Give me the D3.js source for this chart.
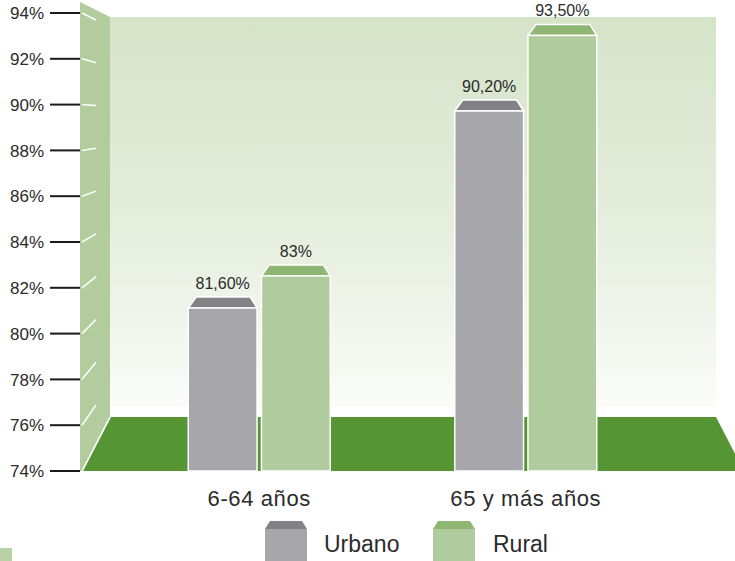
<!DOCTYPE html>
<html>
<head>
<meta charset="utf-8">
<script src="https://cdn.jsdelivr.net/npm/d3@7"></script>
<style>
  body { margin: 0; background: #fff; }
  text { font-family: 'Liberation Sans', Arial, sans-serif; fill: #2b2b2b; }
</style>
</head>
<body>
<svg id="chart" width="735" height="561"></svg>
<script>
var categories = ['6-64 años', '65 y más años']
var series = ['Urbano', 'Rural']
var urbano = [81.6, 90.2]
var rural = [83, 93.5]
var valueLabels = [['81,60%', '83%'], ['90,20%', '93,50%']]
var yTicks = [74, 76, 78, 80, 82, 84, 86, 88, 90, 92, 94]

var colors = {
  Urbano: { face: '#a7a7ab', cap: '#818186' },
  Rural: { face: '#b0cb9d', cap: '#8fb673' }
}

var svg = d3.select('#chart')
var defs = svg.append('defs')

var y = d3.scaleLinear().domain([74, 94]).range([471, 13])
var x = d3.scaleBand().domain(categories).range([126, 659]).padding(0)
var groupW = 142
var xs = d3.scaleBand().domain(series).range([0, groupW]).paddingInner(0.06)
var groupOff = (x.bandwidth() - groupW) / 2

var wallX0 = 80, wallX1 = 110, backTop = 17, floorTop = 417, floorBot = y(74)

// back wall gradient
var grad = defs.append('linearGradient')
  .attr('id', 'wallGrad').attr('x1', 0).attr('y1', 0).attr('x2', 0).attr('y2', 1)
grad.append('stop').attr('offset', '0%').attr('stop-color', '#d5e3c8')
grad.append('stop').attr('offset', '60%').attr('stop-color', '#e8f0e1')
grad.append('stop').attr('offset', '100%').attr('stop-color', '#fbfcf9')

svg.append('rect')
  .attr('x', wallX1).attr('y', backTop)
  .attr('width', 716 - wallX1).attr('height', floorTop - backTop - 10)
  .attr('fill', 'url(#wallGrad)')

// left side wall
svg.append('polygon')
  .attr('points', [[wallX0, 2], [wallX1, backTop], [wallX1, floorTop], [wallX0 + 2, floorBot], [wallX0, floorBot]].join(' '))
  .attr('fill', '#b2cc9e')

// floor
svg.append('polygon')
  .attr('points', [[wallX0 + 3, floorBot], [wallX1 + 1, floorTop], [716, floorTop], [744, floorBot]].join(' '))
  .attr('fill', '#559533')
svg.append('line')
  .attr('x1', wallX0 + 2).attr('y1', floorBot).attr('x2', wallX1).attr('y2', floorTop)
  .attr('stroke', '#fff').attr('stroke-width', 1.5)

// perspective tick marks on side wall
var vx = 82 + 212, vy = 119
svg.append('g').selectAll('line').data(yTicks.slice(1)).join('line')
  .attr('x1', 82).attr('y1', function(d) { return y(d) })
  .attr('x2', 96)
  .attr('y2', function(d) { return y(d) + (vy - y(d)) * 14 / (vx - 82) })
  .attr('stroke', '#fff').attr('stroke-width', 1.5)

// y axis ticks
var axis = svg.append('g')
axis.selectAll('line').data(yTicks).join('line')
  .attr('x1', 50).attr('x2', wallX0)
  .attr('y1', function(d) { return y(d) }).attr('y2', function(d) { return y(d) })
  .attr('stroke', '#1a1a1a').attr('stroke-width', 2)
axis.selectAll('text').data(yTicks).join('text')
  .attr('x', 44).attr('y', function(d) { return y(d) })
  .attr('dy', '0.36em').attr('text-anchor', 'end')
  .style('font-size', '17px')
  .text(function(d) { return d + '%' })

// bars
var capH = 11
var bars = []
categories.forEach(function(c, i) {
  bars.push({ cat: c, s: 'Urbano', v: urbano[i], label: valueLabels[i][0] })
  bars.push({ cat: c, s: 'Rural', v: rural[i], label: valueLabels[i][1] })
})

var groups = svg.append('g').selectAll('g').data(bars).join('g')
groups.each(function(d) {
  var g = d3.select(this)
  var x0 = x(d.cat) + groupOff + xs(d.s), w = xs.bandwidth()
  var top = y(d.v)
  g.append('polygon')
    .attr('points', [[x0, top + capH], [x0 + 8, top], [x0 + w - 7, top], [x0 + w, top + capH]].join(' '))
    .attr('fill', colors[d.s].cap).attr('stroke', '#fff').attr('stroke-width', 1.5)
    .attr('stroke-linejoin', 'round')
  g.append('rect')
    .attr('x', x0).attr('y', top + capH).attr('width', w).attr('height', floorBot - top - capH)
    .attr('fill', colors[d.s].face).attr('stroke', '#fff').attr('stroke-width', 1.5)
  g.append('text')
    .attr('x', x0 + w / 2).attr('y', top - 8)
    .attr('text-anchor', 'middle')
    .style('font-size', '16px')
    .text(d.label)
})

// category labels
svg.append('g').selectAll('text').data(categories).join('text')
  .attr('x', function(d) { return x(d) + x.bandwidth() / 2 })
  .attr('y', 506)
  .attr('text-anchor', 'middle')
  .style('font-size', '22px')
  .style('letter-spacing', '0.6px')
  .text(function(d) { return d })

// legend
var legX = [265, 433]
var leg = svg.append('g').selectAll('g').data(series).join('g')
  .attr('transform', function(d, i) { return 'translate(' + legX[i] + ',521)' })
leg.append('polygon')
  .attr('points', '0,8 5,0 37,0 42,8')
  .attr('fill', function(d) { return colors[d].cap })
leg.append('rect')
  .attr('x', 0).attr('y', 8).attr('width', 42).attr('height', 40)
  .attr('fill', function(d) { return colors[d].face })
leg.append('text')
  .attr('x', function(d, i) { return i === 0 ? 59 : 60 }).attr('y', 31)
  .style('font-size', '23px')
  .text(function(d) { return d })

// small corner swatch
svg.append('rect').attr('x', 0).attr('y', 548).attr('width', 12).attr('height', 13).attr('fill', '#b9d1a6')
</script>
</body>
</html>
